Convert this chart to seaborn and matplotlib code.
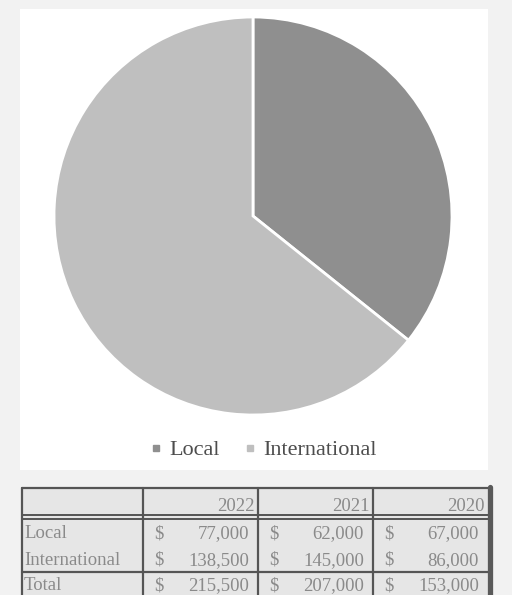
# Pie chart of revenue by market with the summary table underneath

import matplotlib
matplotlib.use("Agg")
import matplotlib.pyplot as plt
from matplotlib.patches import Rectangle
from matplotlib.lines import Line2D
import seaborn as sns

# -----------------------------------------
# Data
# -----------------------------------------
markets = ["Local", "International"]
years = ["2022", "2021", "2020"]
local_values = [77000, 62000, 67000]
international_values = [138500, 145000, 86000]
total_values = [215500, 207000, 153000]

pie_values = [local_values[0], international_values[0]]
pie_colors = ["#8f8f8f", "#bfbfbf"]

# -----------------------------------------
# Figure
# -----------------------------------------
sns.set_style("white")
plt.rcParams["font.family"] = ["Liberation Serif", "DejaVu Serif"]

W, H = 512, 595
fig = plt.figure(figsize=(W / 100, H / 100), dpi=100, facecolor="#f2f2f2")

def px_box(x0, y0, x1, y1):
    return [x0 / W, 1 - y1 / H, (x1 - x0) / W, (y1 - y0) / H]

# white panel behind the chart
fig.patches.append(Rectangle((20 / W, 1 - 470 / H), 468 / W, 461 / H,
                             transform=fig.transFigure, facecolor="white",
                             edgecolor="none", zorder=-5))

# -----------------------------------------
# Pie
# -----------------------------------------
ax = fig.add_axes(px_box(54, 17, 452, 415))
ax.pie(pie_values, colors=pie_colors, startangle=90, counterclock=False,
       wedgeprops=dict(edgecolor="white", linewidth=2))
ax.set_xlim(-1, 1)
ax.set_ylim(-1, 1)
ax.set_aspect("equal")
ax.axis("off")

handles = [Line2D([], [], marker="s", linestyle="none", markersize=5,
                  markerfacecolor=c, markeredgecolor=c) for c in pie_colors]
fig.legend(handles, markets, loc="center",
           bbox_to_anchor=(264 / W, 1 - 450 / H), ncol=2, frameon=False,
           handletextpad=0.35, columnspacing=1.1, handlelength=0.5,
           prop={"size": 16}, labelcolor="#4d4d4d")

# -----------------------------------------
# Table
# -----------------------------------------
tab = fig.add_axes([0, 0, 1, 1])
tab.set_xlim(0, W)
tab.set_ylim(H, 0)
tab.axis("off")
tab.patch.set_alpha(0)

cols = [22, 143, 258, 373, 488]
rows_y = [488, 516, 545, 572, 600]
tab.add_patch(Rectangle((cols[0], rows_y[0]), cols[-1] - cols[0],
                        rows_y[-1] - rows_y[0], facecolor="#e6e6e6",
                        edgecolor="none"))

line_kw = dict(color="#555555", linewidth=1.6)
tab.plot([cols[0], cols[-1]], [rows_y[0], rows_y[0]], **line_kw)
tab.plot([cols[0], cols[-1]], [514.5, 514.5], color="#555555", linewidth=1.4)
tab.plot([cols[0], cols[-1]], [518.5, 518.5], color="#555555", linewidth=1.4)
tab.plot([cols[0], cols[-1]], [572, 572], **line_kw)
for x in cols[:-1]:
    tab.plot([x, x], [rows_y[0], H], **line_kw)
tab.plot([cols[-1] + 1.5, cols[-1] + 1.5], [rows_y[0] - 1, H],
         color="#5a5a5a", linewidth=3.8)

text_kw = dict(fontsize=13.5, color="#8a8a8a", va="baseline")
for i, yr in enumerate(years):
    tab.text(cols[i + 2] - 3, 511, yr, ha="right", **text_kw)

table_rows = [("Local", local_values, 538),
              ("International", international_values, 565),
              ("Total", total_values, 590)]
for label, vals, y in table_rows:
    tab.text(cols[0] + 2, y, label, ha="left", **text_kw)
    for i, v in enumerate(vals):
        tab.text(cols[i + 1] + 11, y, "$", ha="left", **text_kw)
        tab.text(cols[i + 2] - 9, y, f"{v:,}", ha="right", **text_kw)

plt.savefig("out.png", dpi=100, facecolor=fig.get_facecolor())
